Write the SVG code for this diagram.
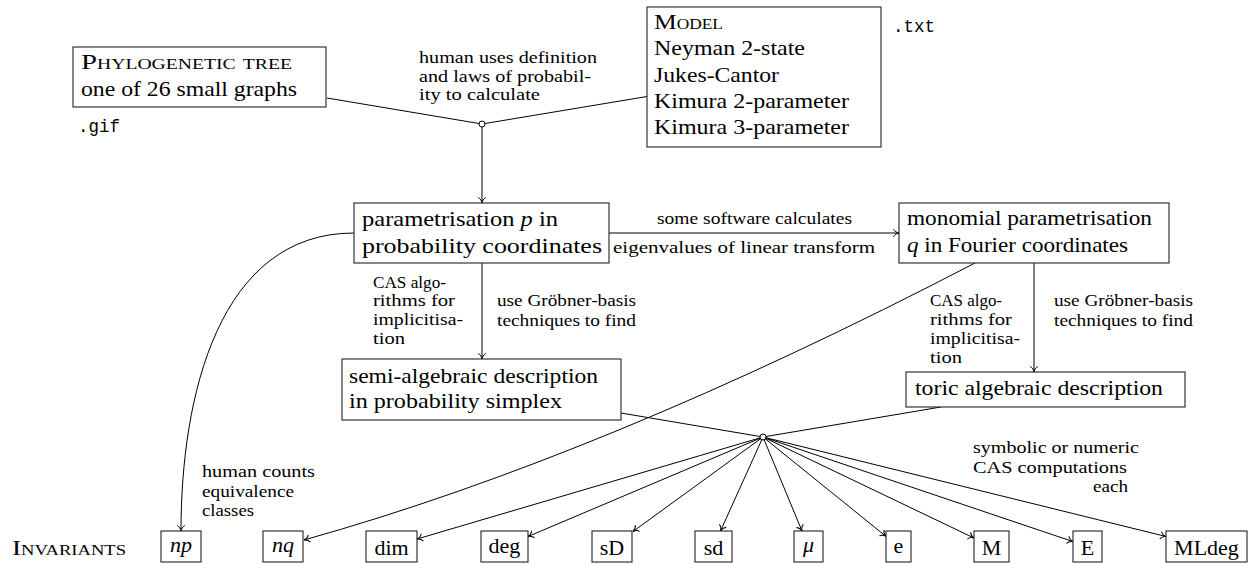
<svg xmlns="http://www.w3.org/2000/svg" width="1248" height="564" viewBox="0 0 1248 564">
<style>
  .box { fill: #fff; stroke: #222; stroke-width: 1.1; }
  .t { font-family: "Liberation Serif", "Times New Roman", "DejaVu Serif", serif; font-size: 22px; fill: #000; }
  .sc { font-variant: small-caps; }
  .lab { font-family: "Liberation Serif", "Times New Roman", "DejaVu Serif", serif; font-size: 17.5px; fill: #000; }
  .mono { font-family: "Liberation Mono", "Courier New", monospace; font-size: 17.5px; fill: #000; }
  .it { font-style: italic; }
  .c { text-anchor: middle; }
  .edge { fill: none; stroke: #000; stroke-width: 1; }
  .arr { marker-end: url(#tip); }
  .jn { fill: #fff; stroke: #000; stroke-width: 1; }
</style>
<defs>
  <marker id="tip" markerWidth="10" markerHeight="10" viewBox="-7 -5 8 10" refX="0" refY="0" orient="auto" markerUnits="userSpaceOnUse">
    <path d="M-5.5,-3.8 C-4.5,-1.6 -1.8,-0.3 0,0 C-1.8,0.3 -4.5,1.6 -5.5,3.8" fill="none" stroke="#000" stroke-width="1"/>
  </marker>
</defs>

<g id="connectors">
  <line class="edge" x1="327" y1="98" x2="482" y2="124"/>
  <line class="edge" x1="647" y1="96.5" x2="482" y2="124"/>
  <line class="edge arr" x1="482" y1="127" x2="482" y2="203"/>
  <line class="edge arr" x1="609" y1="233" x2="899" y2="233"/>
  <line class="edge arr" x1="482" y1="263" x2="482" y2="359"/>
  <line class="edge arr" x1="1034" y1="263" x2="1034" y2="372"/>
  <path class="edge arr" d="M354,233 C219,233 181,396 181,531"/>
  <path class="edge arr" d="M975,263 Q604,456 304,540"/>
  <line class="edge" x1="621" y1="413" x2="763" y2="437"/>
  <line class="edge" x1="941" y1="407" x2="763" y2="437"/>
  <line class="edge arr" x1="763" y1="437" x2="417" y2="539"/>
  <line class="edge arr" x1="763" y1="437" x2="528" y2="536.5"/>
  <line class="edge arr" x1="763" y1="437" x2="633" y2="531.5"/>
  <line class="edge arr" x1="763" y1="437" x2="720.5" y2="531"/>
  <line class="edge arr" x1="763" y1="437" x2="802" y2="531"/>
  <line class="edge arr" x1="763" y1="437" x2="886" y2="536.4"/>
  <line class="edge arr" x1="763" y1="437" x2="974" y2="538"/>
  <line class="edge arr" x1="763" y1="437" x2="1073" y2="541.6"/>
  <line class="edge arr" x1="763" y1="437" x2="1166" y2="536.5"/>
  <circle class="jn" cx="482" cy="124" r="3"/>
  <circle class="jn" cx="763" cy="437" r="3"/>
  <text class="lab" x="419" y="63" textLength="178" lengthAdjust="spacingAndGlyphs">human uses definition</text>
  <text class="lab" x="419" y="82" textLength="172" lengthAdjust="spacingAndGlyphs">and laws of probabil-</text>
  <text class="lab" x="419" y="100" textLength="121" lengthAdjust="spacingAndGlyphs">ity to calculate</text>
  <text class="lab" x="657" y="224" textLength="195" lengthAdjust="spacingAndGlyphs">some software calculates</text>
  <text class="lab" x="613" y="253" textLength="262" lengthAdjust="spacingAndGlyphs">eigenvalues of linear transform</text>
  <text class="lab" x="373" y="288" textLength="73" lengthAdjust="spacingAndGlyphs">CAS algo-</text>
  <text class="lab" x="373" y="306" textLength="82" lengthAdjust="spacingAndGlyphs">rithms for</text>
  <text class="lab" x="373" y="325" textLength="90" lengthAdjust="spacingAndGlyphs">implicitisa-</text>
  <text class="lab" x="373" y="344" textLength="32" lengthAdjust="spacingAndGlyphs">tion</text>
  <text class="lab" x="497" y="306" textLength="139" lengthAdjust="spacingAndGlyphs">use Gröbner-basis</text>
  <text class="lab" x="497" y="326" textLength="139" lengthAdjust="spacingAndGlyphs">techniques to find</text>
  <text class="lab" x="930" y="306" textLength="72" lengthAdjust="spacingAndGlyphs">CAS algo-</text>
  <text class="lab" x="930" y="325" textLength="82" lengthAdjust="spacingAndGlyphs">rithms for</text>
  <text class="lab" x="930" y="344" textLength="90" lengthAdjust="spacingAndGlyphs">implicitisa-</text>
  <text class="lab" x="930" y="363" textLength="32" lengthAdjust="spacingAndGlyphs">tion</text>
  <text class="lab" x="1054" y="306" textLength="139" lengthAdjust="spacingAndGlyphs">use Gröbner-basis</text>
  <text class="lab" x="1054" y="326" textLength="139" lengthAdjust="spacingAndGlyphs">techniques to find</text>
  <text class="lab" x="202" y="477" textLength="113" lengthAdjust="spacingAndGlyphs">human counts</text>
  <text class="lab" x="202" y="497" textLength="92" lengthAdjust="spacingAndGlyphs">equivalence</text>
  <text class="lab" x="202" y="516" textLength="52" lengthAdjust="spacingAndGlyphs">classes</text>
  <text class="lab" x="973" y="453" textLength="166" lengthAdjust="spacingAndGlyphs">symbolic or numeric</text>
  <text class="lab" x="973" y="473" textLength="154" lengthAdjust="spacingAndGlyphs">CAS computations</text>
  <text class="lab" x="1093" y="492" textLength="35" lengthAdjust="spacingAndGlyphs">each</text>
</g>

<g id="phylo">
  <rect class="box" x="73" y="47" width="253" height="60"/>
  <text class="t sc" x="81" y="69" textLength="211" lengthAdjust="spacingAndGlyphs">Phylogenetic tree</text>
  <text class="t" x="81" y="96" textLength="216" lengthAdjust="spacingAndGlyphs">one of 26 small graphs</text>
  <text class="mono" x="78" y="132">.gif</text>
</g>

<g id="model">
  <rect class="box" x="647" y="7" width="234" height="140"/>
  <text class="t sc" x="654" y="29" textLength="69" lengthAdjust="spacingAndGlyphs">Model</text>
  <text class="t" x="654" y="55" textLength="151" lengthAdjust="spacingAndGlyphs">Neyman 2-state</text>
  <text class="t" x="654" y="82" textLength="125" lengthAdjust="spacingAndGlyphs">Jukes-Cantor</text>
  <text class="t" x="654" y="108" textLength="195" lengthAdjust="spacingAndGlyphs">Kimura 2-parameter</text>
  <text class="t" x="654" y="134" textLength="195" lengthAdjust="spacingAndGlyphs">Kimura 3-parameter</text>
  <text class="mono" x="893" y="32">.txt</text>
</g>

<g id="param">
  <rect class="box" x="354" y="203" width="255" height="60"/>
  <text class="t" x="362" y="226" textLength="196" lengthAdjust="spacingAndGlyphs">parametrisation <tspan class="it">p</tspan> in</text>
  <text class="t" x="362" y="253" textLength="240" lengthAdjust="spacingAndGlyphs">probability coordinates</text>
</g>

<g id="monomial">
  <rect class="box" x="899" y="203" width="270" height="60"/>
  <text class="t" x="907" y="225" textLength="245" lengthAdjust="spacingAndGlyphs">monomial parametrisation</text>
  <text class="t" x="907" y="252" textLength="221" lengthAdjust="spacingAndGlyphs"><tspan class="it">q</tspan> in Fourier coordinates</text>
</g>

<g id="semi">
  <rect class="box" x="342" y="359" width="279" height="61"/>
  <text class="t" x="349" y="383" textLength="249" lengthAdjust="spacingAndGlyphs">semi-algebraic description</text>
  <text class="t" x="349" y="408" textLength="213" lengthAdjust="spacingAndGlyphs">in probability simplex</text>
</g>

<g id="toric">
  <rect class="box" x="906" y="372" width="279" height="35"/>
  <text class="t" x="915" y="395" textLength="248" lengthAdjust="spacingAndGlyphs">toric algebraic description</text>
</g>

<g id="invariants">
  <text class="t sc" x="12" y="555" textLength="114" lengthAdjust="spacingAndGlyphs">Invariants</text>
</g>
<g id="np"><rect class="box" x="161" y="531" width="40" height="31"/><text class="t it c" x="181" y="552">np</text></g>
<g id="nq"><rect class="box" x="263" y="531" width="40" height="31"/><text class="t it c" x="283" y="552">nq</text></g>
<g id="dim"><rect class="box" x="366" y="531" width="51" height="31"/><text class="t c" x="391.5" y="555">dim</text></g>
<g id="deg"><rect class="box" x="481" y="531" width="47" height="31"/><text class="t c" x="504.5" y="553">deg</text></g>
<g id="sD"><rect class="box" x="592" y="531" width="40" height="31"/><text class="t c" x="612" y="555">sD</text></g>
<g id="sd"><rect class="box" x="695" y="531" width="37" height="31"/><text class="t c" x="713.5" y="555">sd</text></g>
<g id="mu"><rect class="box" x="794" y="531" width="29" height="31"/><text class="t it c" x="808.5" y="552">μ</text></g>
<g id="e"><rect class="box" x="886" y="531" width="25" height="31"/><text class="t c" x="898.5" y="553">e</text></g>
<g id="M"><rect class="box" x="974" y="531" width="35" height="31"/><text class="t c" x="991.5" y="555">M</text></g>
<g id="E"><rect class="box" x="1073" y="531" width="29" height="31"/><text class="t c" x="1087.5" y="555">E</text></g>
<g id="MLdeg"><rect class="box" x="1166" y="531" width="81" height="31"/><text class="t c" x="1206.5" y="555">MLdeg</text></g>
</svg>
